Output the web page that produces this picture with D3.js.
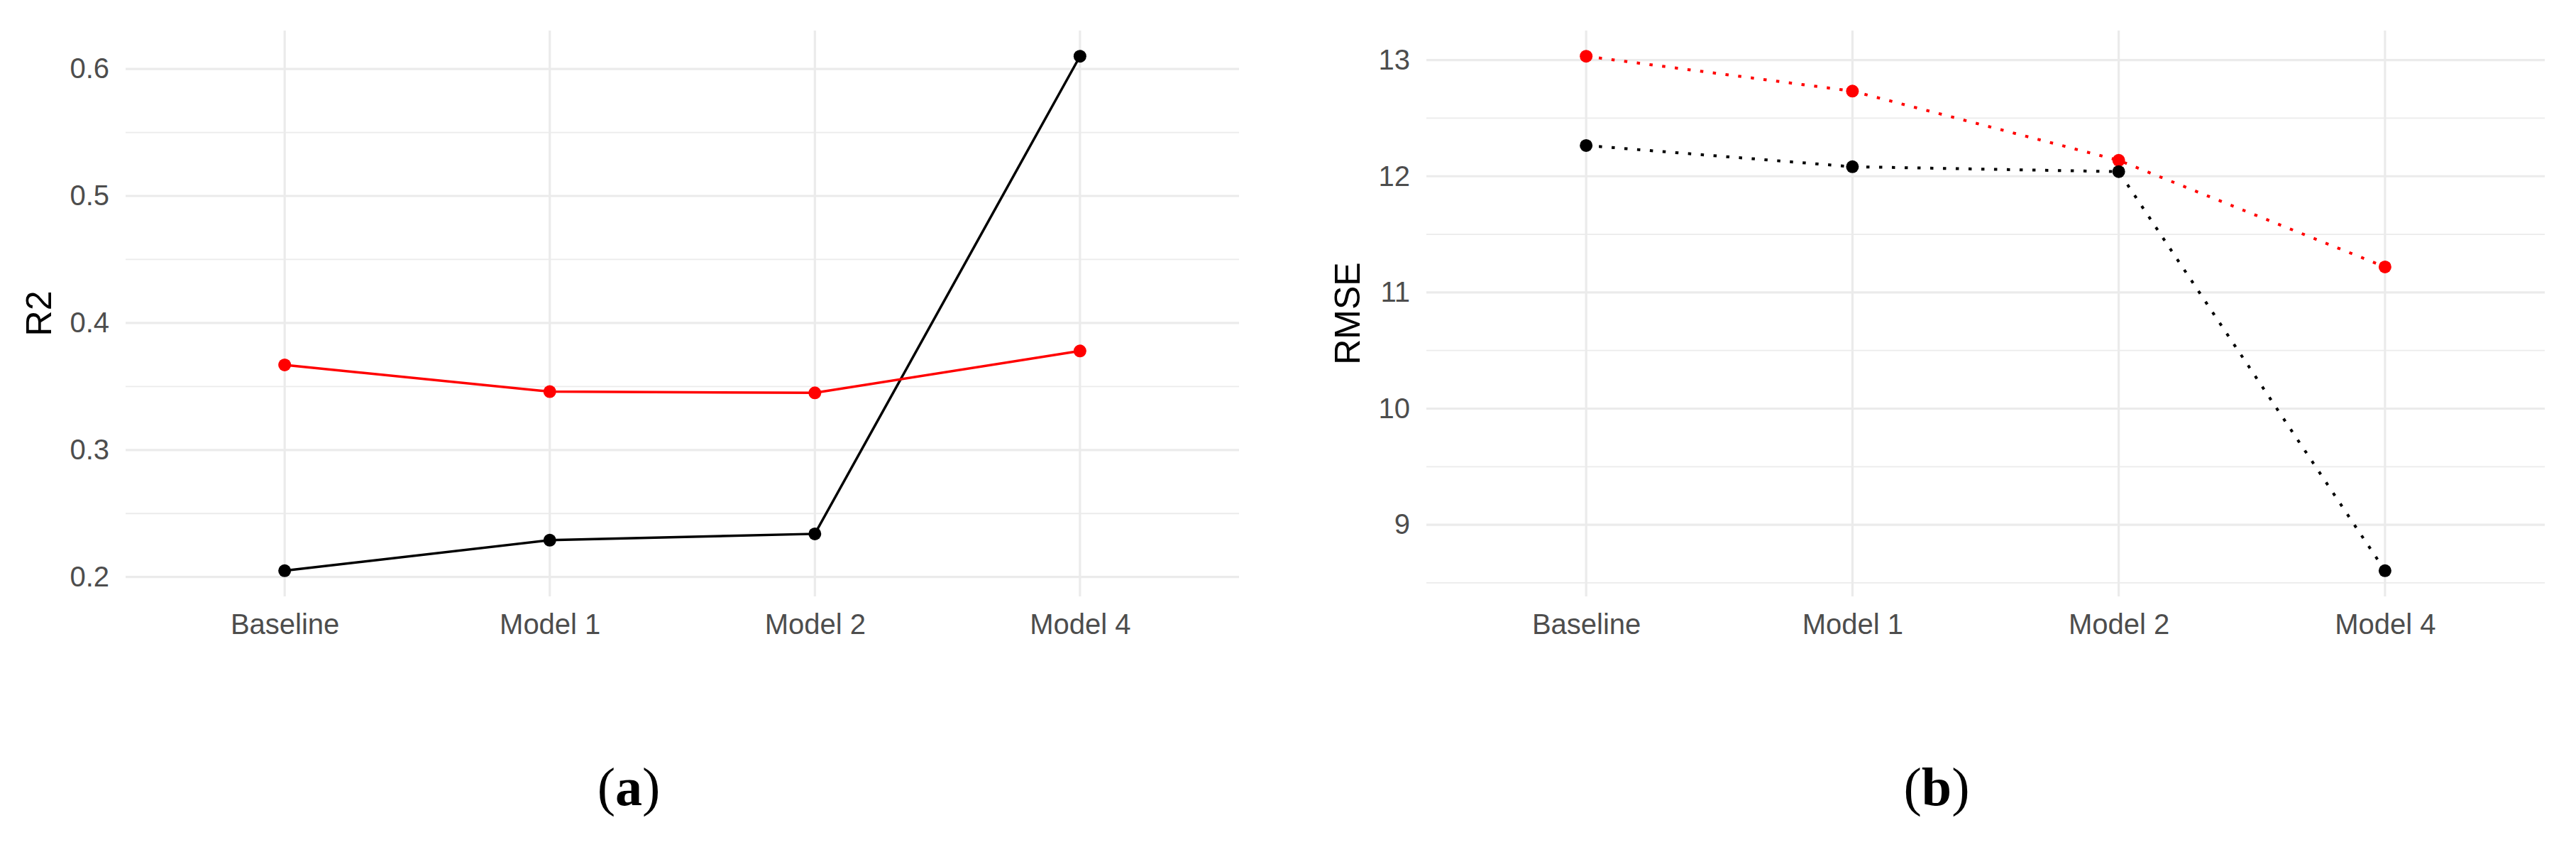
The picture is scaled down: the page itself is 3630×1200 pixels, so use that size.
<!DOCTYPE html>
<html>
<head>
<meta charset="utf-8">
<script src="https://cdn.jsdelivr.net/npm/d3@7"></script>
<style>
  html, body { margin: 0; padding: 0; background: #ffffff; }
  svg { display: block; }
</style>
</head>
<body>
<svg id="chart" width="3630" height="1200"></svg>
<script>
// ---------- data ----------
const categories = ["Baseline", "Model 1", "Model 2", "Model 4"];

// Panel (a): R2
const r2Red   = [0.367, 0.346, 0.345, 0.378];
const r2Black = [0.205, 0.229, 0.234, 0.610];
const r2Ticks = [0.2, 0.3, 0.4, 0.5, 0.6];
const r2Minor = [0.25, 0.35, 0.45, 0.55];

// Panel (b): RMSE
const rmseRed   = [13.033, 12.733, 12.137, 11.22];
const rmseBlack = [12.265, 12.082, 12.04, 8.605];
const rmseTicks = [9, 10, 11, 12, 13];
const rmseMinor = [8.5, 9.5, 10.5, 11.5, 12.5];

// ---------- layout ----------
const svg = d3.select("#chart");
const plotTop = 43, plotBottom = 840;
const gridColor = "#EBEBEB";
const textColor = "#4D4D4D";
const font = "'Liberation Sans', Arial, sans-serif";

function panel(cfg) {
  const g = svg.append("g");
  const x = d3.scalePoint().domain(categories).range([cfg.left, cfg.right]).padding(0.6);
  const all = cfg.series.flatMap(s => s.values);
  const lo = d3.min(all), hi = d3.max(all), pad = (hi - lo) * 0.05;
  const y = d3.scaleLinear().domain([lo - pad, hi + pad]).range([plotBottom, plotTop]);

  // minor grid
  g.append("g").selectAll("line").data(cfg.minor).join("line")
    .attr("x1", cfg.left).attr("x2", cfg.right)
    .attr("y1", d => y(d)).attr("y2", d => y(d))
    .attr("stroke", gridColor).attr("stroke-width", 1.8);
  // major grid horizontal
  g.append("g").selectAll("line").data(cfg.ticks).join("line")
    .attr("x1", cfg.left).attr("x2", cfg.right)
    .attr("y1", d => y(d)).attr("y2", d => y(d))
    .attr("stroke", gridColor).attr("stroke-width", 3.2);
  // major grid vertical
  g.append("g").selectAll("line").data(categories).join("line")
    .attr("x1", d => x(d)).attr("x2", d => x(d))
    .attr("y1", plotTop).attr("y2", plotBottom)
    .attr("stroke", gridColor).attr("stroke-width", 3.2);

  // axes
  const ya = g.append("g").attr("transform", `translate(${cfg.left},0)`)
    .call(d3.axisLeft(y).tickValues(cfg.ticks).tickSize(0).tickPadding(23).tickFormat(cfg.fmt));
  ya.select(".domain").remove();
  ya.selectAll("text").attr("fill", textColor).style("font-family", font).style("font-size", "40px");

  const xa = g.append("g").attr("transform", `translate(0,${plotBottom})`)
    .call(d3.axisBottom(x).tickSize(0).tickPadding(25));
  xa.select(".domain").remove();
  xa.selectAll("text").attr("fill", textColor).style("font-family", font).style("font-size", "40px");

  // y title
  g.append("text")
    .attr("transform", `translate(${cfg.titleX},${(plotTop + plotBottom) / 2}) rotate(-90)`)
    .attr("text-anchor", "middle").attr("dominant-baseline", "central")
    .style("font-family", font).style("font-size", "50px").attr("fill", "#000")
    .text(cfg.title);

  // series
  const line = d3.line().x((d, i) => x(categories[i])).y(d => y(d));
  cfg.series.forEach(s => {
    g.append("path").datum(s.values)
      .attr("d", line).attr("fill", "none")
      .attr("stroke", s.color).attr("stroke-width", cfg.lineWidth)
      .attr("stroke-dasharray", cfg.dash || null);
    g.append("g").selectAll("circle").data(s.values).join("circle")
      .attr("cx", (d, i) => x(categories[i])).attr("cy", d => y(d))
      .attr("r", 9).attr("fill", s.color);
  });

  // subcaption
  const cap = svg.append("text").attr("x", cfg.capX).attr("y", 1134)
    .attr("text-anchor", "middle")
    .style("font-family", "'Liberation Serif', 'Times New Roman', serif")
    .style("font-size", "76px").attr("fill", "#000");
  cap.append("tspan").text("(");
  cap.append("tspan").style("font-weight", "bold").text(cfg.cap);
  cap.append("tspan").text(")");
}

panel({
  left: 177, right: 1746, title: "R2", titleX: 55,
  ticks: r2Ticks, minor: r2Minor, fmt: d3.format(".1f"),
  series: [{values: r2Black, color: "#000000"}, {values: r2Red, color: "#FF0000"}],
  lineWidth: 3.5, capX: 886, cap: "a"
});

panel({
  left: 2010, right: 3586, title: "RMSE", titleX: 1899,
  ticks: rmseTicks, minor: rmseMinor, fmt: d3.format("d"),
  series: [{values: rmseRed, color: "#FF0000"}, {values: rmseBlack, color: "#000000"}],
  lineWidth: 4, dash: "4.5,13.5", capX: 2729, cap: "b"
});
</script>
</body>
</html>
